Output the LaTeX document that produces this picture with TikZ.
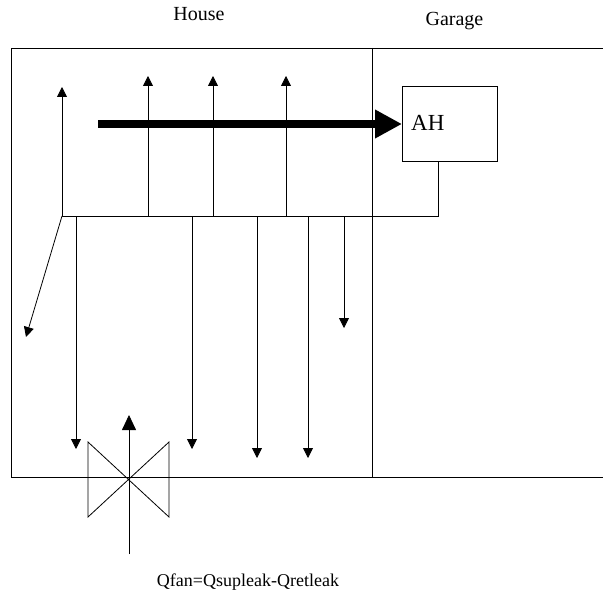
\documentclass[tikz,border=0pt]{standalone}
\usepackage{fontspec}
\setmainfont{Liberation Serif}
\usetikzlibrary{arrows.meta}
\begin{document}
\begin{tikzpicture}[x=1pt,y=-1pt,
  lbl/.style={inner sep=0pt,anchor=base,font=\fontsize{20}{22}\selectfont},
  thin line/.style={draw=black,line width=0.8pt},
  flow/.style={thin line,-{Triangle[length=10pt,width=10pt]}},
  bigflow/.style={draw=black,line width=7pt,-{Triangle[length=27pt,width=27pt]}}]
\useasboundingbox (0,0) rectangle (603,594);
\node[lbl] (house) at (199,21) {House};
\node[lbl] (garage) at (454.5,26) {Garage};
\node[lbl,font=\fontsize{23}{25}\selectfont,anchor=base west] (ahl) at (411,131) {AH};
\node[lbl,font=\fontsize{18}{20}\selectfont] (q) at (248,586) {Qfan=Qsupleak-Qretleak};
\draw[thin line] (603,48) -- (11,48) -- (11,477) -- (603,477);
\draw[thin line] (372,48) -- (372,477);
\node[draw,line width=0.8pt,inner sep=0pt,anchor=north west,minimum width=95pt,minimum height=75pt] (ah) at (402,86) {};
\coordinate (d0) at (62,216);
\coordinate (d1) at (438,216);
\draw[thin line] (ah.south -| d1) -- (d1) -- (d0);
\draw[flow] (d0) -- (62,87);
\draw[flow] (148,216) -- (148,76);
\draw[flow] (213,216) -- (213,76);
\draw[flow] (286,216) -- (286,76);
\draw[flow] (d0) -- (26,337);
\draw[flow] (76,216) -- (76,449);
\draw[flow] (192,216) -- (192,449);
\draw[flow] (257,216) -- (257,458);
\draw[flow] (308,216) -- (308,458);
\draw[flow] (344,216) -- (344,328);
\draw[bigflow] (98,124) -- (402,124);
\draw[thin line] (88,442) -- (88,517) -- (169,442) -- (169,517) -- cycle;
\draw[thin line,-{Triangle[length=15pt,width=14pt]}] (129,554) -- (129,415);
\end{tikzpicture}
\end{document}
